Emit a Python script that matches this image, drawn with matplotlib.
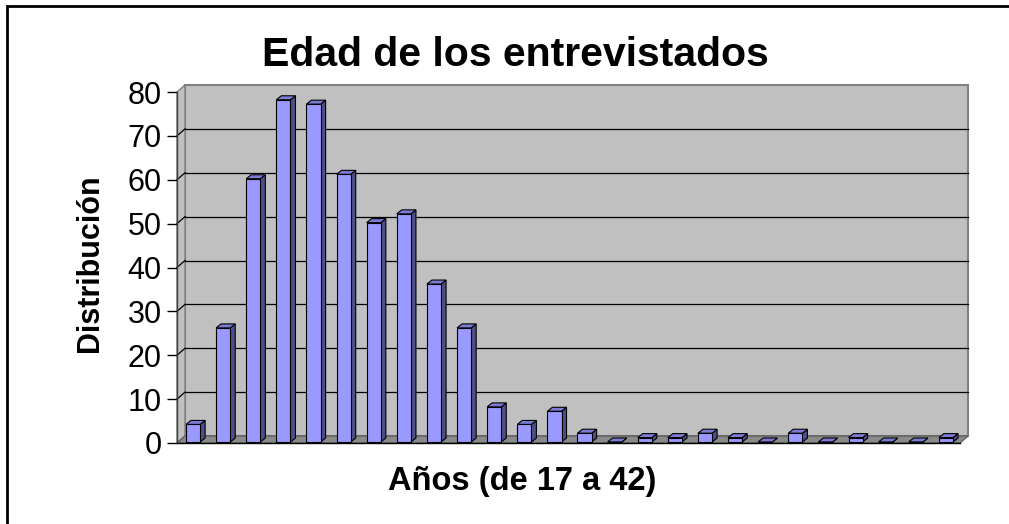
import numpy as np
import matplotlib
matplotlib.use('Agg')
import matplotlib.pyplot as plt
import matplotlib.transforms as mtransforms
from matplotlib.patches import Polygon, Rectangle
from matplotlib.lines import Line2D

plt.rcParams['font.family'] = ['Liberation Sans', 'DejaVu Sans']

title = 'Edad de los entrevistados'
xlabel = 'Años (de 17 a 42)'
ylabel = 'Distribución'
ages = list(range(17, 43))
counts = [4, 26, 60, 78, 77, 61, 50, 52, 36, 26, 8, 4, 7, 2,
          0, 1, 1, 2, 1, 0, 2, 0, 1, 0, 0, 1]
yticks = list(range(0, 81, 10))

W, H = 1009, 524
fig = plt.figure(figsize=(W / 100, H / 100), dpi=100)
fig.patch.set_facecolor('white')

# front plane of the pseudo-3D plot area
ax = fig.add_axes([177 / W, (H - 443) / H, 783 / W, 351 / H])
n = len(counts)
ax.set_xlim(-0.5, n - 0.5)
ax.set_ylim(0, 80)
ax.patch.set_visible(False)
for s in ['top', 'right', 'bottom']:
    ax.spines[s].set_visible(False)
ax.spines['left'].set_color('#404040')
ax.spines['left'].set_linewidth(1.0)
ax.set_xticks([])
ax.set_yticks(yticks)
ax.tick_params(axis='y', length=7, width=1, labelsize=22, pad=4)

DEPTH = (8, 7)        # back wall offset in pixels
BAR_F = (1, 1)        # bar front face offset
BAR_B = (6, 5)        # bar back face offset
IDT = mtransforms.IdentityTransform()


def pt(x, y, off=(0, 0)):
    px, py = ax.transData.transform((x, y))
    return (px + off[0], py + off[1])


def poly(points, **kw):
    p = Polygon(points, closed=True, transform=IDT, clip_on=False, **kw)
    ax.add_patch(p)


def line(p0, p1, **kw):
    ax.add_line(Line2D([p0[0], p1[0]], [p0[1], p1[1]], transform=IDT,
                       clip_on=False, **kw))


x0, x1 = -0.5, n - 0.5
# back wall
poly([pt(x0, 0, DEPTH), pt(x1, 0, DEPTH), pt(x1, 80, DEPTH), pt(x0, 80, DEPTH)],
     facecolor='#C0C0C0', edgecolor='#808080', lw=1.5, zorder=0.5)
# left wall
poly([pt(x0, 0), pt(x0, 0, DEPTH), pt(x0, 80, DEPTH), pt(x0, 80)],
     facecolor='#C0C0C0', edgecolor='#808080', lw=1.0, zorder=0.6)
# floor
poly([pt(x0, 0), pt(x1, 0), pt(x1, 0, DEPTH), pt(x0, 0, DEPTH)],
     facecolor='#8A8A8A', edgecolor='#606060', lw=1.0, zorder=0.7)
line(pt(x0, 0), pt(x1, 0), color='black', lw=1.0, zorder=0.8)

# gridlines
for v in yticks[1:-1]:
    line(pt(x0, v), pt(x0, v, DEPTH), color='black', lw=0.9, zorder=0.9)
    line(pt(x0, v, DEPTH), pt(x1, v, DEPTH), color='black', lw=0.9, zorder=0.9)

# bars
xs = np.arange(n)
bw = 0.47
front_tr = mtransforms.offset_copy(ax.transData, fig=fig, x=BAR_F[0], y=BAR_F[1],
                                   units='dots')
for i, v in zip(xs, counts):
    a, b = i - bw / 2, i + bw / 2
    poly([pt(b, 0, BAR_F), pt(b, 0, BAR_B), pt(b, v, BAR_B), pt(b, v, BAR_F)],
         facecolor='#4F4F88', edgecolor='black', lw=0.8, zorder=2)
    poly([pt(a, v, BAR_F), pt(b, v, BAR_F), pt(b, v, BAR_B), pt(a, v, BAR_B)],
         facecolor='#7B7BD6', edgecolor='black', lw=0.8, zorder=2)
ax.bar(xs, counts, width=bw, color='#9999FF', edgecolor='black', linewidth=0.8,
       transform=front_tr, clip_on=False, zorder=3)

# texts
fig.text(515 / W, 1 - 66 / H, title, ha='center', va='baseline',
         fontsize=29.5, fontweight='bold')
fig.text(90 / W, 1 - 263 / H, ylabel, ha='center', va='center', rotation=90,
         fontsize=22, fontweight='bold')
fig.text(522 / W, 1 - 490 / H, xlabel, ha='center', va='baseline',
         fontsize=23.5, fontweight='bold')

# chart frame
fig.add_artist(Rectangle((7 / W, -0.05), 1.1, 1 - 6 / H + 0.05, transform=fig.transFigure,
                         fill=False, edgecolor='black', lw=2))

fig.savefig('out.png', dpi=100)
